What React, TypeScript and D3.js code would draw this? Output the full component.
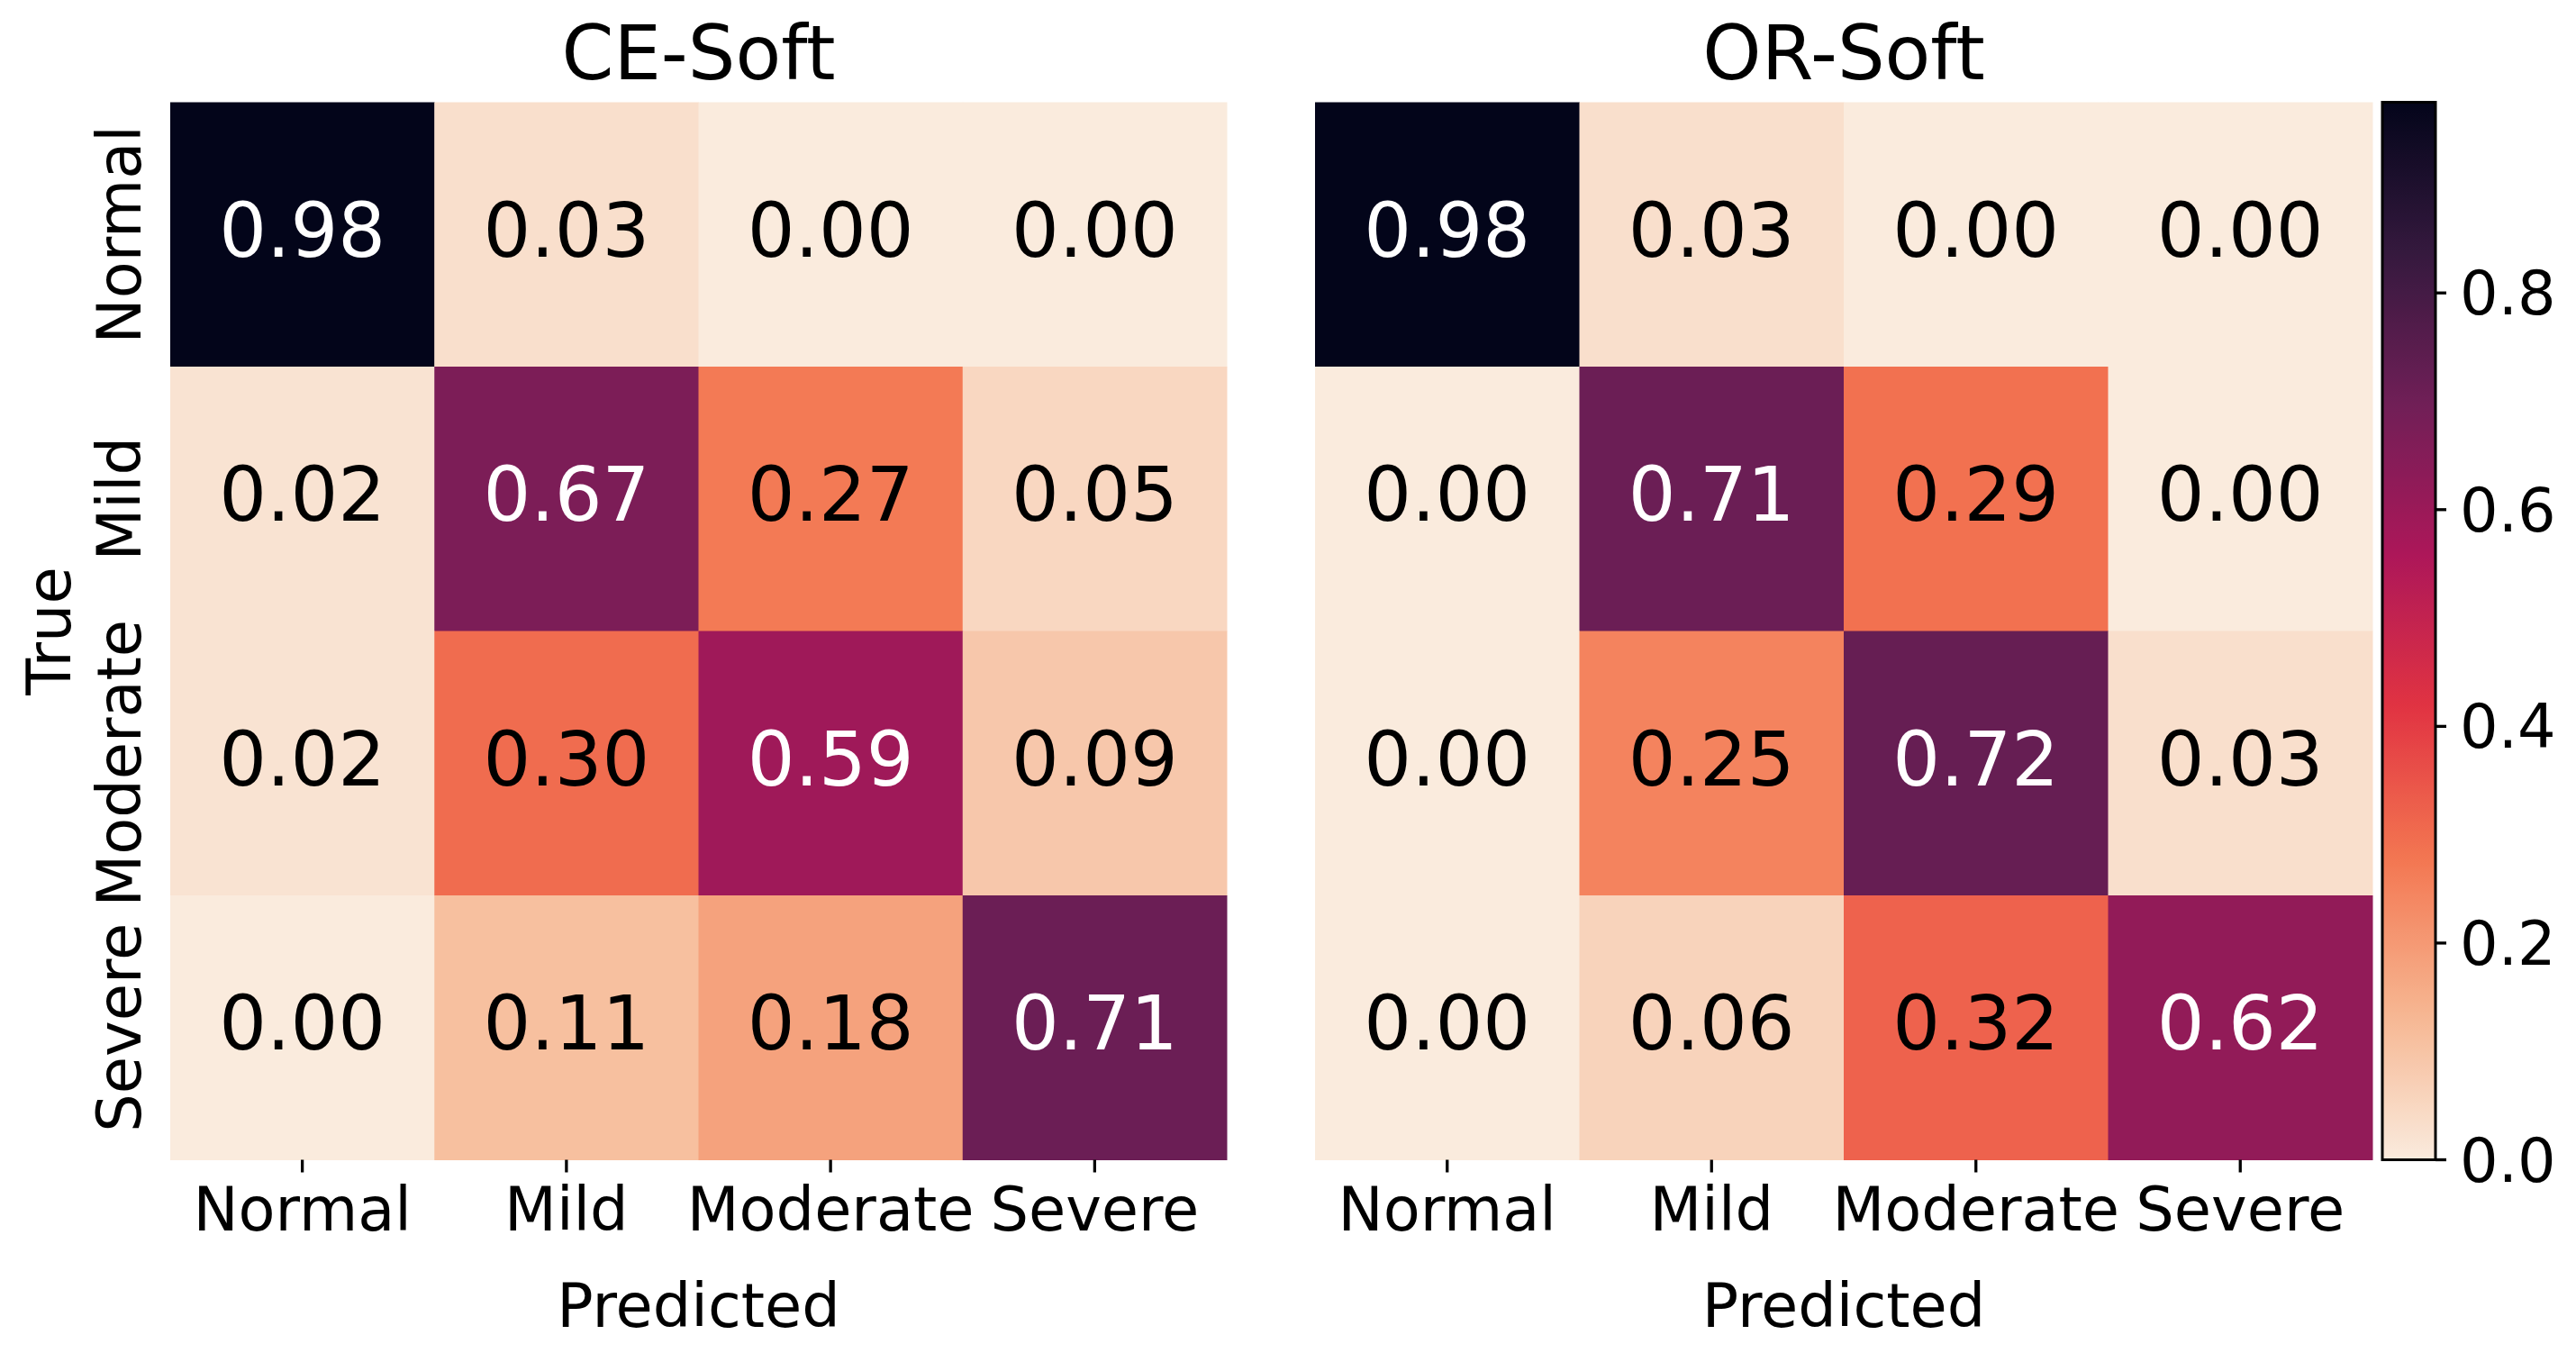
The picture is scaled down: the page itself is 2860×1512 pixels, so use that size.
import React from "react";
import * as d3 from "d3";

// ---- data ----
const classLabels = ["Normal", "Mild", "Moderate", "Severe"];
const panelTitles = ["CE-Soft", "OR-Soft"];
const ceSoft = [
  [0.976, 0.03, 0.0, 0.0],
  [0.02, 0.67, 0.27, 0.05],
  [0.02, 0.3, 0.59, 0.09],
  [0.0, 0.11, 0.18, 0.71],
];
const orSoft = [
  [0.976, 0.03, 0.0, 0.0],
  [0.0, 0.71, 0.29, 0.0],
  [0.0, 0.25, 0.72, 0.03],
  [0.0, 0.06, 0.32, 0.62],
];
const colorbarTicks = [0.0, 0.2, 0.4, 0.6, 0.8];
const rocketStops = ["#03051A", "#35193E", "#701F57", "#AD1759", "#E13342", "#F37651", "#F6B48F", "#FAEBDD"];

// ---- layout ----
const W = 2860;
const H = 1512;
const FONT = "DejaVu Sans, Verdana, sans-serif";
const TOP = 113.5;
const BOTTOM = 1287.5;
const PANEL_X = [
  [189, 1362],
  [1460, 2634],
];
const CB_X0 = 2645;
const CB_X1 = 2704;
const TITLE_FS = 83;
const ANN_FS = 83;
const TICK_FS = 67;

const matrices = [ceSoft, orSoft];
const vmax = d3.max(matrices.flat(2) as number[]) as number;
const rocket = d3
  .scaleLinear<string>()
  .domain(rocketStops.map((_, i) => i / (rocketStops.length - 1)))
  .range(rocketStops)
  .interpolate(d3.interpolateRgb)
  .clamp(true);
const colorOf = (v: number) => rocket(1 - v / vmax);
const fmt = d3.format(".2f");
const fmt1 = d3.format(".1f");

function textColorFor(fill: string) {
  const c = d3.rgb(fill);
  const lin = (u: number) => {
    const s = u / 255;
    return s <= 0.03928 ? s / 12.92 : Math.pow((s + 0.055) / 1.055, 2.4);
  };
  const l = 0.2126 * lin(c.r) + 0.7152 * lin(c.g) + 0.0722 * lin(c.b);
  return l > 0.18 ? "#000000" : "#ffffff";
}

const yScale = d3.scaleBand<string>().domain(classLabels).range([TOP, BOTTOM]);
const cbScale = d3.scaleLinear().domain([0, vmax]).range([BOTTOM, TOP]);

function Panel({ idx }: { idx: number }) {
  const data = matrices[idx];
  const [x0, x1] = PANEL_X[idx];
  const xScale = d3.scaleBand<string>().domain(classLabels).range([x0, x1]);
  const bw = xScale.bandwidth();
  const bh = yScale.bandwidth();
  const cx = (x0 + x1) / 2;
  return (
    <g>
      <text x={cx} y={88} textAnchor="middle" fontSize={TITLE_FS} fontFamily={FONT} fill="#000">
        {panelTitles[idx]}
      </text>
      {data.map((row, r) =>
        row.map((v, c) => {
          const fill = colorOf(v);
          const x = xScale(classLabels[c]) as number;
          const y = yScale(classLabels[r]) as number;
          return (
            <g key={`${r}-${c}`}>
              <rect x={x} y={y} width={bw + 0.5} height={bh + 0.5} fill={fill} />
              <text
                x={x + bw / 2}
                y={y + bh / 2 + 24.5}
                textAnchor="middle"
                fontSize={ANN_FS}
                fontFamily={FONT}
                fill={textColorFor(fill)}
              >
                {fmt(v)}
              </text>
            </g>
          );
        })
      )}
      {classLabels.map((lab) => {
        const tx = (xScale(lab) as number) + bw / 2;
        return (
          <g key={lab}>
            <line x1={tx} x2={tx} y1={BOTTOM} y2={BOTTOM + 14} stroke="#000" strokeWidth={3.3} />
            <text x={tx} y={1366} textAnchor="middle" fontSize={TICK_FS} fontFamily={FONT} fill="#000">
              {lab}
            </text>
          </g>
        );
      })}
      <text x={cx} y={1473} textAnchor="middle" fontSize={TICK_FS} fontFamily={FONT} fill="#000">
        Predicted
      </text>
      {idx === 0 && (
        <g>
          {classLabels.map((lab) => {
            const ty = (yScale(lab) as number) + bh / 2;
            return (
              <text
                key={lab}
                transform={`translate(156,${ty}) rotate(-90)`}
                textAnchor="middle"
                fontSize={TICK_FS}
                fontFamily={FONT}
                fill="#000"
              >
                {lab}
              </text>
            );
          })}
          <text
            transform={`translate(78,${(TOP + BOTTOM) / 2}) rotate(-90)`}
            textAnchor="middle"
            fontSize={TICK_FS}
            fontFamily={FONT}
            fill="#000"
          >
            True
          </text>
        </g>
      )}
    </g>
  );
}

function Colorbar() {
  const stops = d3.range(0, 101).map((i) => i / 100);
  return (
    <g>
      <defs>
        <linearGradient id="cbgrad" x1="0" y1="1" x2="0" y2="0">
          {stops.map((s) => (
            <stop key={s} offset={s} stopColor={colorOf(s * vmax)} />
          ))}
        </linearGradient>
      </defs>
      <rect x={CB_X0} y={TOP} width={CB_X1 - CB_X0} height={BOTTOM - TOP} fill="url(#cbgrad)" stroke="#000" strokeWidth={3} />
      {colorbarTicks.map((t) => {
        const y = cbScale(t);
        return (
          <g key={t}>
            <line x1={CB_X1} x2={CB_X1 + 12} y1={y} y2={y} stroke="#000" strokeWidth={3.3} />
            <text x={2731} y={y + 24} fontSize={TICK_FS} fontFamily={FONT} fill="#000">
              {fmt1(t)}
            </text>
          </g>
        );
      })}
    </g>
  );
}

export default function App() {
  return (
    <svg
      width={W}
      height={H}
      viewBox={`0 0 ${W} ${H}`}
      style={{ position: "absolute", left: 0, top: 0, background: "#fff" }}
    >
      <rect x={0} y={0} width={W} height={H} fill="#fff" />
      <Panel idx={0} />
      <Panel idx={1} />
      <Colorbar />
    </svg>
  );
}
